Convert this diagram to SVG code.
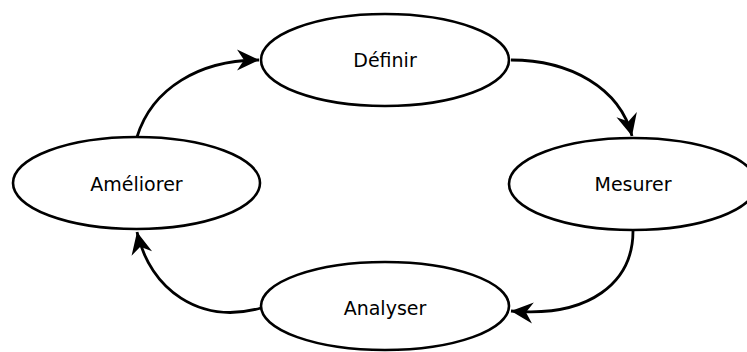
<svg xmlns="http://www.w3.org/2000/svg" width="747" height="352" viewBox="0 0 747 352">
<style>
.n ellipse{fill:#fff;stroke:#000;stroke-width:2.6}
.n text{font-family:"DejaVu Sans",sans-serif;font-size:19px;text-anchor:middle;dominant-baseline:central;fill:#000}
.e path{fill:none;stroke:#000;stroke-width:2.8}
</style>
<defs>
<marker id="ah" markerUnits="userSpaceOnUse" markerWidth="26" markerHeight="26" viewBox="-24 -12 26 24" refX="0" refY="0" orient="auto">
<path d="M0,0 L-22,-10.5 L-15,0 L-22,10.5 Z" fill="#000"/>
</marker>
</defs>
<g class="e" id="connectors">
<path d="M137,137 C152,88 200,60 259,60" marker-end="url(#ah)"/>
<path d="M511,60 C570,60 620,88 632,136" marker-end="url(#ah)"/>
<path d="M633,231 C633,282 590,318 511,311" marker-end="url(#ah)"/>
<path d="M261,308 C200,325 150,290 137,232" marker-end="url(#ah)"/>
</g>
<g class="n" id="definir"><ellipse cx="385" cy="60" rx="124" ry="46"/><text x="385" y="60">Définir</text></g>
<g class="n" id="mesurer"><ellipse cx="633" cy="184" rx="124" ry="46"/><text x="633" y="184">Mesurer</text></g>
<g class="n" id="analyser"><ellipse cx="385" cy="306" rx="124" ry="44"/><text x="385" y="307.5">Analyser</text></g>
<g class="n" id="ameliorer"><ellipse cx="136.5" cy="183" rx="123.5" ry="46"/><text x="136.5" y="183.5">Améliorer</text></g>
</svg>
